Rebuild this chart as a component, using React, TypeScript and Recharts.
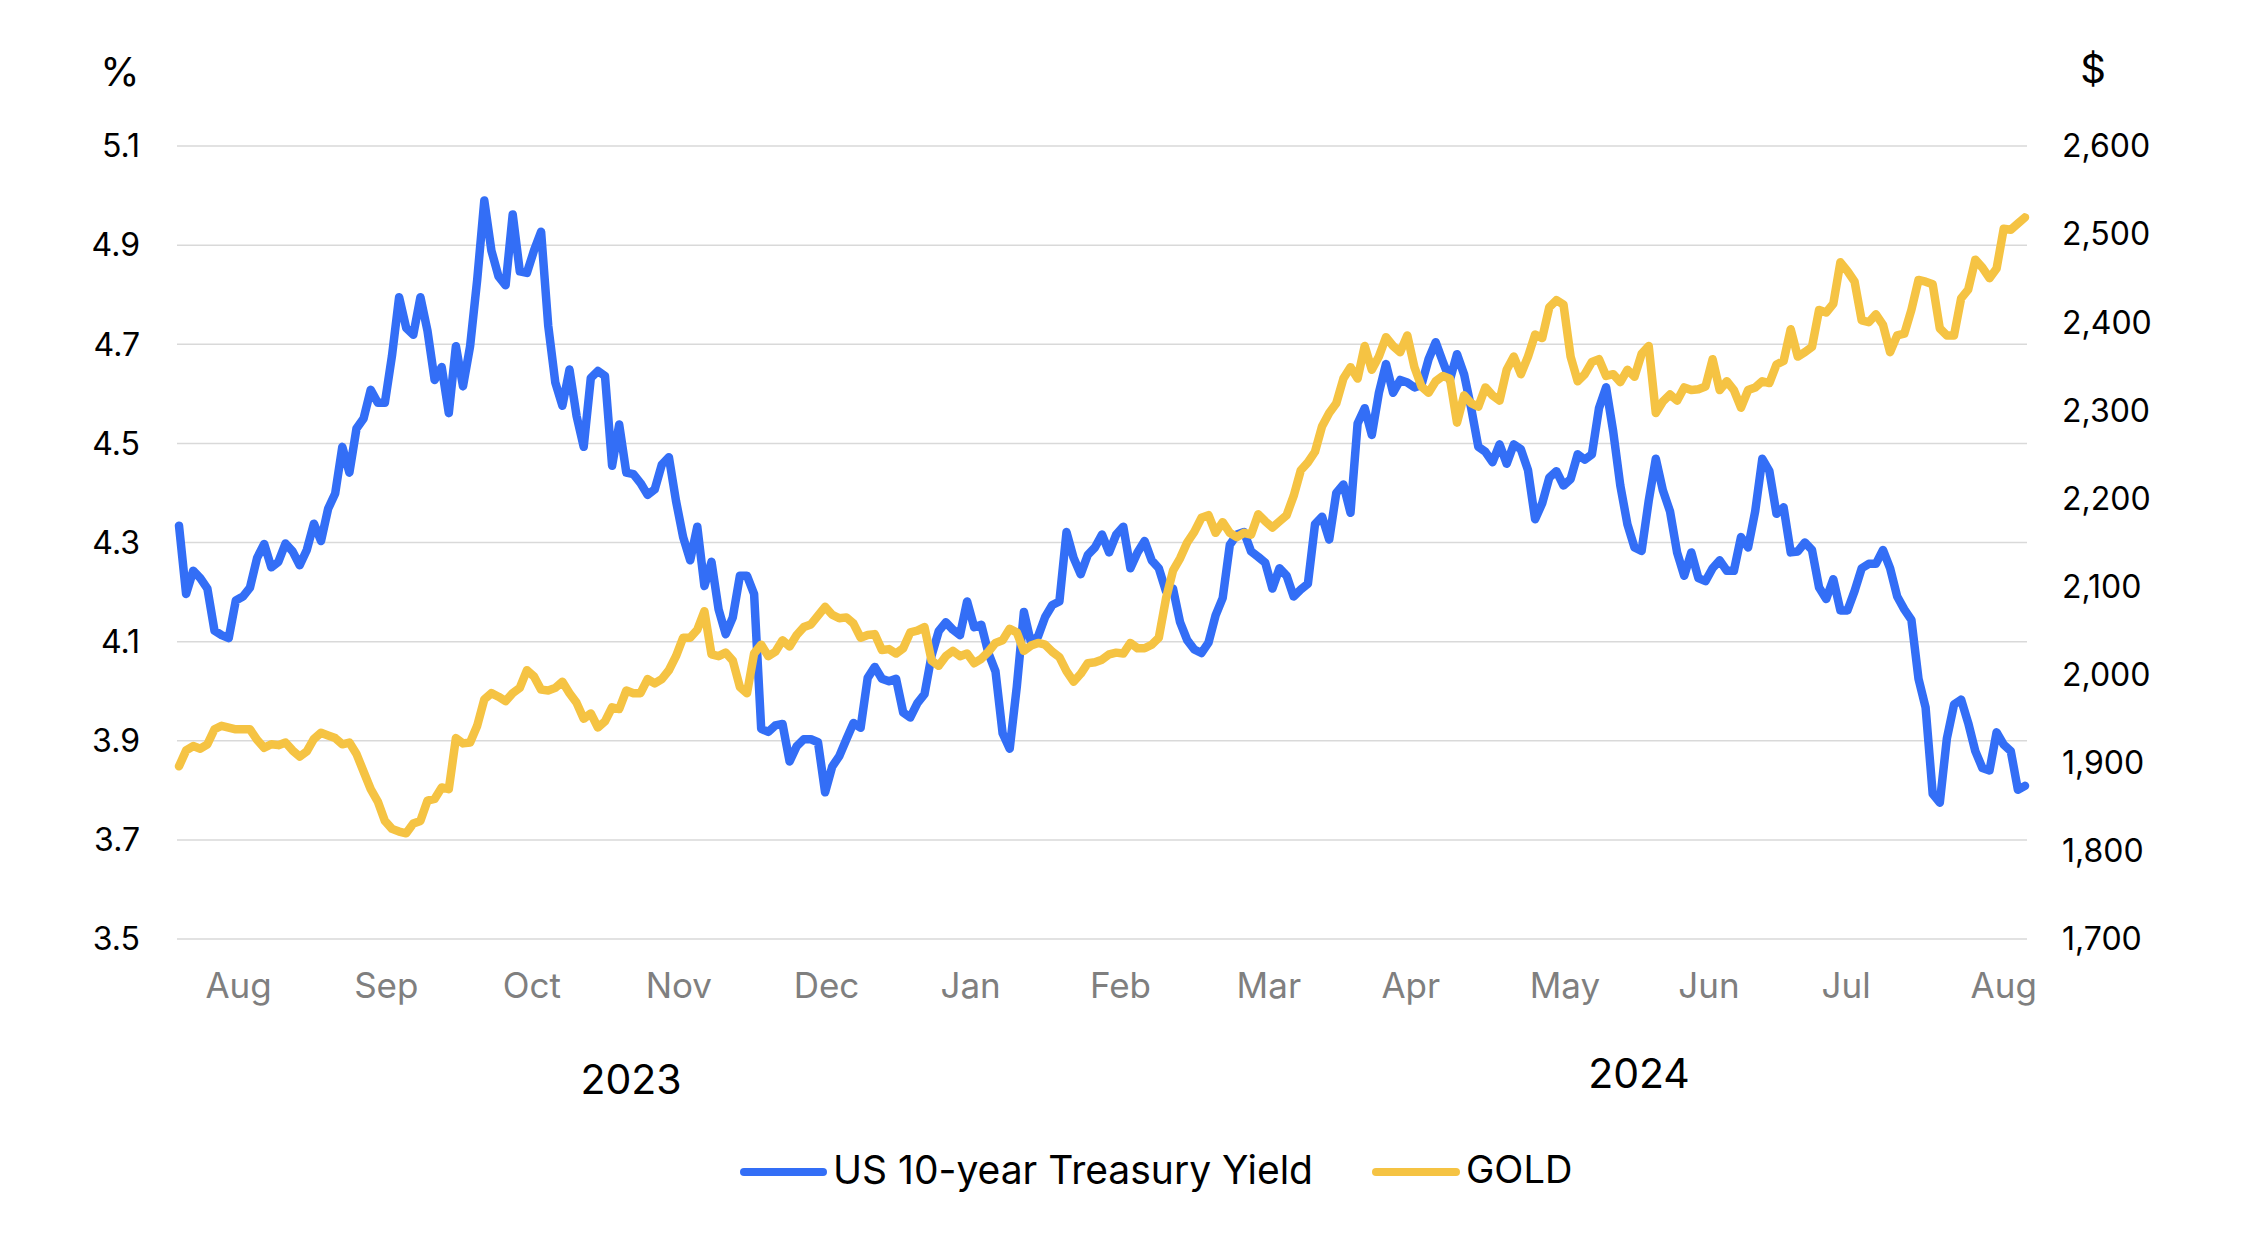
import { LineChart, Line, XAxis, YAxis, CartesianGrid } from "recharts";

const FONT = "Inter, 'Liberation Sans', Arial, sans-serif";
const BLUE = "#336ef6";
const GOLD_COLOR = "#f5c343";

// US 10-year Treasury yield, %, one value per trading day (Jul 2023 - Aug 2024)
const YIELD = [
  4.334, 4.196, 4.243, 4.228, 4.207, 4.122, 4.113, 4.107, 4.183, 4.191,
  4.209, 4.269, 4.297, 4.25, 4.261, 4.298, 4.282, 4.254, 4.285, 4.338,
  4.303, 4.368, 4.399, 4.493, 4.441, 4.53, 4.55, 4.608, 4.582, 4.582,
  4.677, 4.795, 4.733, 4.719, 4.795, 4.727, 4.628, 4.654, 4.561, 4.696,
  4.615, 4.696, 4.83, 4.99, 4.889, 4.837, 4.819, 4.962, 4.847, 4.844,
  4.889, 4.927, 4.738, 4.623, 4.576, 4.649, 4.555, 4.493, 4.632, 4.646,
  4.636, 4.455, 4.538, 4.441, 4.438, 4.42, 4.396, 4.407, 4.457, 4.472,
  4.384, 4.311, 4.264, 4.332, 4.212, 4.261, 4.165, 4.115, 4.149, 4.233,
  4.233, 4.196, 3.924, 3.918, 3.931, 3.934, 3.858, 3.889, 3.903, 3.903,
  3.897, 3.796, 3.848, 3.869, 3.903, 3.936, 3.926, 4.027, 4.049, 4.025,
  4.02, 4.025, 3.957, 3.947, 3.976, 3.994, 4.072, 4.121, 4.139, 4.124,
  4.113, 4.181, 4.129, 4.134, 4.077, 4.04, 3.915, 3.884, 4.009, 4.16,
  4.098, 4.111, 4.15, 4.174, 4.181, 4.321, 4.269, 4.236, 4.275, 4.29,
  4.316, 4.28, 4.316, 4.332, 4.248, 4.28, 4.303, 4.264, 4.248, 4.202,
  4.207, 4.139, 4.103, 4.084, 4.077, 4.098, 4.153, 4.188, 4.295, 4.316,
  4.321, 4.282, 4.271, 4.259, 4.207, 4.248, 4.233, 4.191, 4.205, 4.217,
  4.337, 4.352, 4.306, 4.4, 4.417, 4.36, 4.54, 4.571, 4.517, 4.602,
  4.66, 4.602, 4.628, 4.623, 4.613, 4.618, 4.67, 4.704, 4.665, 4.628,
  4.68, 4.639, 4.571, 4.493, 4.483, 4.462, 4.498, 4.459, 4.498, 4.488,
  4.446, 4.347, 4.379, 4.431, 4.444, 4.415, 4.428, 4.478, 4.467, 4.478,
  4.571, 4.613, 4.524, 4.415, 4.337, 4.29, 4.283, 4.384, 4.469, 4.405,
  4.363, 4.28, 4.233, 4.28, 4.228, 4.222, 4.248, 4.264, 4.243, 4.243,
  4.311, 4.29, 4.363, 4.469, 4.444, 4.358, 4.371, 4.28, 4.282, 4.3,
  4.285, 4.209, 4.186, 4.226, 4.163, 4.163, 4.202, 4.248, 4.257, 4.257,
  4.285, 4.248, 4.191, 4.165, 4.144, 4.025, 3.967, 3.793, 3.775, 3.905,
  3.973, 3.983, 3.936, 3.879, 3.845, 3.84, 3.917, 3.892, 3.879, 3.801,
  3.809,
];

// Gold price, $ per ounce, same days
const GOLD = [
  1896, 1914, 1919, 1916, 1921, 1938, 1942, 1940, 1938, 1938,
  1938, 1926, 1917, 1921, 1920, 1923, 1914, 1907, 1913, 1927,
  1934, 1931, 1928, 1921, 1923, 1910, 1890, 1870, 1856, 1834,
  1825, 1822, 1820, 1831, 1834, 1857, 1859, 1872, 1870, 1928,
  1922, 1923, 1942, 1972, 1979, 1975, 1970, 1979, 1985, 2005,
  1998, 1983, 1982, 1985, 1992, 1979, 1968, 1950, 1956, 1940,
  1947, 1963, 1961, 1982, 1979, 1979, 1995, 1990, 1995, 2005,
  2021, 2042, 2042, 2051, 2072, 2023, 2021, 2025, 2016, 1986,
  1979, 2024, 2034, 2021, 2026, 2039, 2032, 2045, 2054, 2057,
  2067, 2077, 2068, 2064, 2065, 2058, 2042, 2045, 2046, 2028,
  2029, 2024, 2030, 2048, 2050, 2054, 2016, 2010, 2021, 2027,
  2021, 2024, 2013, 2018, 2026, 2036, 2039, 2052, 2048, 2027,
  2033, 2036, 2034, 2026, 2020, 2004, 1992, 2001, 2013, 2014,
  2017, 2023, 2025, 2024, 2036, 2030, 2030, 2034, 2042, 2086,
  2118, 2132, 2150, 2162, 2178, 2181, 2161, 2173, 2161, 2156,
  2161, 2159, 2182, 2174, 2167, 2174, 2181, 2203, 2232, 2241,
  2253, 2282, 2297, 2308, 2336, 2349, 2336, 2373, 2346, 2361,
  2383, 2373, 2366, 2385, 2349, 2327, 2320, 2333, 2339, 2336,
  2286, 2317, 2308, 2304, 2326, 2317, 2311, 2346, 2361, 2341,
  2361, 2386, 2382, 2417, 2425, 2420, 2361, 2333, 2341, 2355,
  2358, 2339, 2341, 2332, 2346, 2338, 2364, 2373, 2297, 2310,
  2318, 2311, 2326, 2323, 2324, 2327, 2358, 2323, 2333, 2323,
  2303, 2323, 2326, 2333, 2331, 2352, 2356, 2392, 2361, 2366,
  2372, 2414, 2411, 2421, 2468, 2458, 2446, 2402, 2400, 2409,
  2397, 2366, 2385, 2387, 2414, 2448, 2446, 2443, 2393, 2385,
  2385, 2427, 2437, 2471, 2462, 2450, 2461, 2506, 2505, 2512,
  2519,
];

// month labels sit at these day positions
const MONTH_POS = [8.4, 29.2, 49.7, 70.4, 91.2, 111.5, 132.6, 153.5, 173.5, 195.2, 215.5, 234.8, 257.0];
const MONTH_LABELS = ["Aug", "Sep", "Oct", "Nov", "Dec", "Jan", "Feb", "Mar", "Apr", "May", "Jun", "Jul", "Aug"];

const LEFT_TICKS = [3.5, 3.7, 3.9, 4.1, 4.3, 4.5, 4.7, 4.9, 5.1];
const RIGHT_TICKS = [1700, 1800, 1900, 2000, 2100, 2200, 2300, 2400, 2500, 2600];

const data = YIELD.map((y, i) => ({ i, yield: y, gold: GOLD[i] }));

const Label = ({ x, y, size, children }: { x: number; y: number; size: number; children: React.ReactNode }) => (
  <div
    style={{
      position: "absolute",
      left: x,
      top: y,
      transform: "translate(-50%, -50%)",
      fontSize: size,
      lineHeight: 1,
      whiteSpace: "nowrap",
      color: "#000",
    }}
  >
    {children}
  </div>
);

const Swatch = ({ x1, x2, y, color }: { x1: number; x2: number; y: number; color: string }) => (
  <div
    style={{
      position: "absolute",
      left: x1,
      top: y - 4,
      width: x2 - x1,
      height: 8,
      borderRadius: 4,
      background: color,
    }}
  />
);

export default function App() {
  return (
    <div
      style={{
        position: "absolute",
        left: 0,
        top: 0,
        width: 2248,
        height: 1246,
        background: "#fff",
        fontFamily: FONT,
      }}
    >
      <LineChart width={2248} height={1246} data={data} margin={{ top: 146, right: 0, bottom: 247, left: 0 }}>
        <CartesianGrid yAxisId="left" vertical={false} stroke="#d9d9d9" strokeWidth={1.5} />
        <XAxis
          dataKey="i"
          type="number"
          domain={[0, 260]}
          ticks={MONTH_POS}
          interval={0}
          tickFormatter={(_v: number, idx: number) => MONTH_LABELS[idx]}
          axisLine={false}
          tickLine={false}
          tickSize={0}
          tickMargin={34}
          height={60}
          padding={{ left: 2, right: 2 }}
          tick={{ fontSize: 35, fill: "#7f7f7f", fontFamily: FONT }}
        />
        <YAxis
          yAxisId="left"
          domain={[3.5, 5.1]}
          ticks={LEFT_TICKS}
          interval={0}
          width={177}
          axisLine={false}
          tickLine={false}
          tickSize={0}
          tickMargin={37}
          tickFormatter={(v: number) => v.toFixed(1)}
          tick={{ fontSize: 32, fill: "#000", fontFamily: FONT }}
        />
        <YAxis
          yAxisId="right"
          orientation="right"
          domain={[1700, 2600]}
          ticks={RIGHT_TICKS}
          interval={0}
          width={221}
          axisLine={false}
          tickLine={false}
          tickSize={0}
          tickMargin={35}
          tickFormatter={(v: number) => v.toLocaleString("en-US")}
          tick={{ fontSize: 32, fill: "#000", fontFamily: FONT }}
        />
        <Line
          yAxisId="left"
          type="linear"
          dataKey="yield"
          stroke={BLUE}
          strokeWidth={8.5}
          strokeLinejoin="round"
          strokeLinecap="round"
          dot={false}
          isAnimationActive={false}
        />
        <Line
          yAxisId="right"
          type="linear"
          dataKey="gold"
          stroke={GOLD_COLOR}
          strokeWidth={8.5}
          strokeLinejoin="round"
          strokeLinecap="round"
          dot={false}
          isAnimationActive={false}
        />
      </LineChart>

      {/* axis unit captions */}
      <Label x={120} y={72} size={40}>%</Label>
      <Label x={2093} y={69} size={40}>$</Label>

      {/* year captions under the month axis */}
      <Label x={631} y={1079} size={41}>2023</Label>
      <Label x={1639} y={1073} size={41}>2024</Label>

      {/* legend */}
      <Swatch x1={740} x2={827} y={1172} color={BLUE} />
      <div style={{ position: "absolute", left: 833, top: 1150, fontSize: 39, lineHeight: 1, whiteSpace: "nowrap", color: "#000" }}>
        US 10-year Treasury Yield
      </div>
      <Swatch x1={1372} x2={1460} y={1172} color={GOLD_COLOR} />
      <div style={{ position: "absolute", left: 1466, top: 1150, fontSize: 38, lineHeight: 1, whiteSpace: "nowrap", color: "#000" }}>
        GOLD
      </div>
    </div>
  );
}
